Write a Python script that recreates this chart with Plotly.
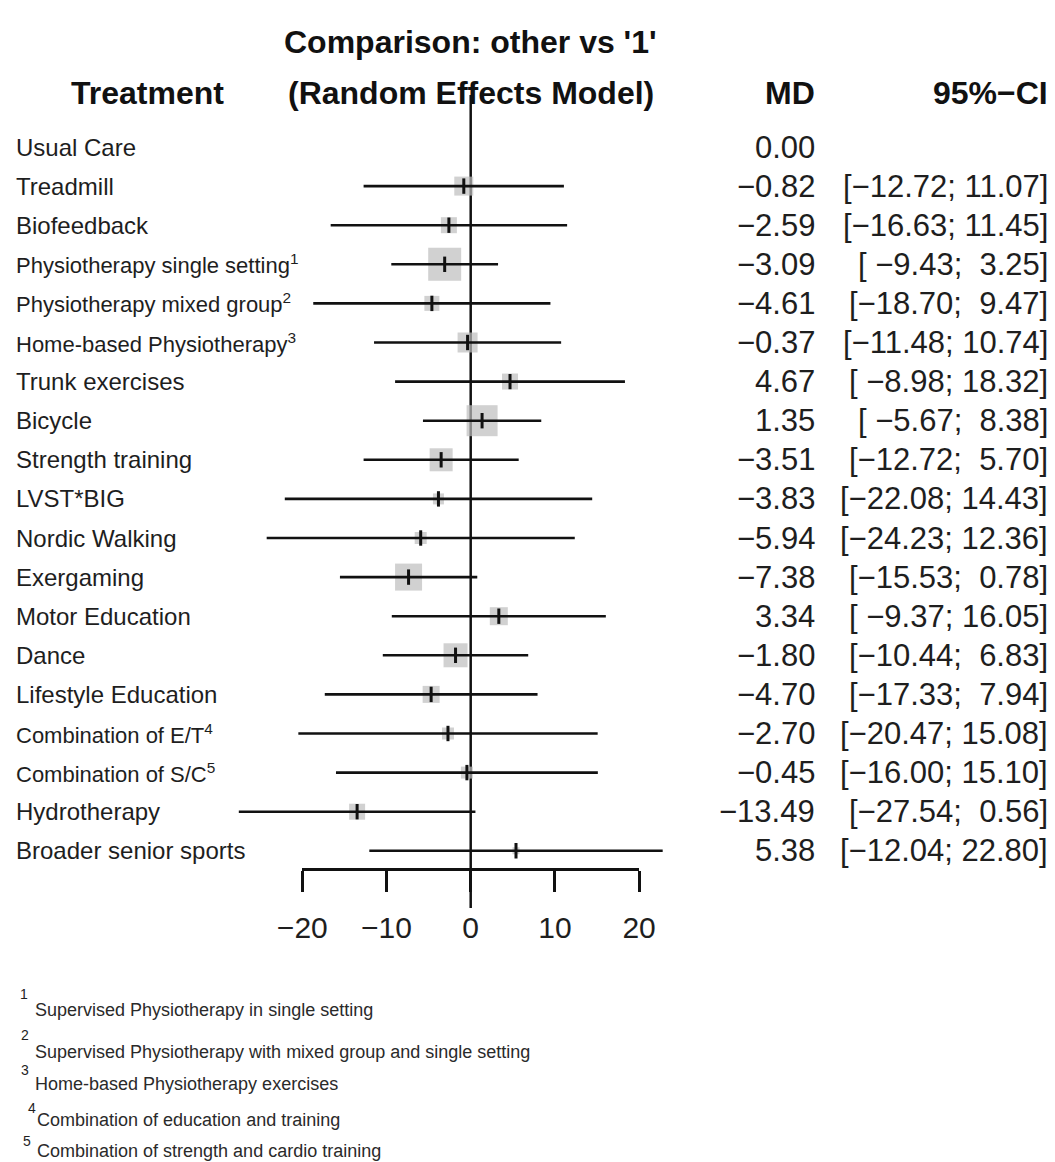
import plotly.graph_objects as go

# ---- data -------------------------------------------------------------
treatments = [
    "Usual Care", "Treadmill", "Biofeedback", "Physiotherapy single setting",
    "Physiotherapy mixed group", "Home-based Physiotherapy", "Trunk exercises",
    "Bicycle", "Strength training", "LVST*BIG", "Nordic Walking", "Exergaming",
    "Motor Education", "Dance", "Lifestyle Education", "Combination of E/T",
    "Combination of S/C", "Hydrotherapy", "Broader senior sports",
]
note_marks = ["", "", "", "1", "2", "3", "", "", "", "", "", "", "", "", "",
              "4", "5", "", ""]
md = [0.00, -0.82, -2.59, -3.09, -4.61, -0.37, 4.67, 1.35, -3.51, -3.83,
      -5.94, -7.38, 3.34, -1.80, -4.70, -2.70, -0.45, -13.49, 5.38]
ci_low = [None, -12.72, -16.63, -9.43, -18.70, -11.48, -8.98, -5.67, -12.72,
          -22.08, -24.23, -15.53, -9.37, -10.44, -17.33, -20.47, -16.00,
          -27.54, -12.04]
ci_high = [None, 11.07, 11.45, 3.25, 9.47, 10.74, 18.32, 8.38, 5.70, 14.43,
           12.36, 0.78, 16.05, 6.83, 7.94, 15.08, 15.10, 0.56, 22.80]
# square side (px) reflecting the weight of each comparison
square_px = [0, 19, 16, 33, 15, 20, 16, 31, 23, 11, 12, 27, 18, 24, 17, 12,
             12, 16, 7]
x_ticks = [-20, -10, 0, 10, 20]
footnote_marks = ["1", "2", "3", "4", "5"]
footnotes = [
    "Supervised Physiotherapy in single setting",
    "Supervised Physiotherapy with mixed group and single setting",
    "Home-based Physiotherapy exercises",
    "Combination of education and training",
    "Combination of strength and cardio training",
]

# ---- geometry ---------------------------------------------------------
W, H = 1055, 1162
ROW0, ROWH = 147.0, 39.1          # pixel centre of first row, row pitch
X0, XS = 470.7, 8.42              # pixel of zero, pixels per unit


def px_x(p):
    return p / W


def px_y(p):
    return 1 - p / H


def row_of(p):
    return (p - ROW0) / ROWH


FONT = "Liberation Sans, Arial, sans-serif"
INK = "#1e1e1e"

rows = list(range(len(treatments)))
est_rows = [r for r in rows if ci_low[r] is not None]

fig = go.Figure()

# squares (weights)
fig.add_trace(go.Scatter(
    x=[md[r] for r in est_rows], y=est_rows, mode="markers",
    marker=dict(symbol="square", size=[square_px[r] for r in est_rows],
                color="#bdbdbd", line=dict(width=0)),
    hoverinfo="skip", showlegend=False))

# confidence intervals
ci_x, ci_y = [], []
for r in est_rows:
    ci_x += [ci_low[r], ci_high[r], None]
    ci_y += [r, r, None]
fig.add_trace(go.Scatter(
    x=ci_x, y=ci_y, mode="lines", line=dict(color="#111111", width=2.6),
    hoverinfo="skip", showlegend=False))

# point estimate ticks
fig.add_trace(go.Scatter(
    x=[md[r] for r in est_rows], y=est_rows, mode="markers",
    marker=dict(symbol="line-ns", size=11,
                line=dict(color="#111111", width=3)),
    hoverinfo="skip", showlegend=False))

# carrier trace for the tick axis
fig.add_trace(go.Scatter(
    x=[x_ticks[0], x_ticks[-1]], y=[None, None], xaxis="x2", yaxis="y",
    mode="markers", marker=dict(opacity=0), hoverinfo="skip",
    showlegend=False))

# line of no effect
fig.add_shape(type="line", xref="x", yref="paper", x0=0, x1=0,
              y0=px_y(908), y1=px_y(95), layer="below",
              line=dict(color="#111111", width=2.5))

ann = []
# treatment labels
for r in rows:
    mark = note_marks[r]
    text = treatments[r] + (f"<sup>{mark}</sup>" if mark else "")
    ann.append(dict(x=px_x(14), xref="paper", y=r, yref="y", text=text,
                    xanchor="left", yanchor="middle", showarrow=False,
                    font=dict(family=FONT, size=22 if mark else 24,
                              color=INK)))


def fmt(v, width=0):
    s = f"{v:{width}.2f}"
    return s.replace("-", "\u2212").replace(" ", "\u00a0")


# MD and CI columns
for r in rows:
    ann.append(dict(x=px_x(817), xref="paper", y=r, yref="y", text=fmt(md[r]),
                    xanchor="right", yanchor="middle", showarrow=False,
                    font=dict(family=FONT, size=31, color=INK)))
    if ci_low[r] is not None:
        ci_txt = "[" + fmt(ci_low[r], 6) + ";\u00a0" + fmt(ci_high[r], 5) + "]"
        ann.append(dict(x=px_x(1050), xref="paper", y=r, yref="y",
                        text=ci_txt, xanchor="right", yanchor="middle",
                        showarrow=False,
                        font=dict(family=FONT, size=31, color=INK)))

# headers
hdr = dict(family=FONT, size=32, color="#111111")
ann.append(dict(x=px_x(147), xref="paper", y=px_y(93), yref="paper",
                text="<b>Treatment</b>", xanchor="center", yanchor="middle",
                showarrow=False, font=hdr))
ann.append(dict(x=0, xref="x", y=px_y(42), yref="paper",
                text="<b>Comparison: other vs '1'</b>", xanchor="center",
                yanchor="middle", showarrow=False, font=hdr))
ann.append(dict(x=0, xref="x", y=px_y(93), yref="paper",
                text="<b>(Random Effects Model)</b>", xanchor="center",
                yanchor="middle", showarrow=False, font=hdr))
ann.append(dict(x=px_x(817), xref="paper", y=px_y(93), yref="paper",
                text="<b>MD</b>", xanchor="right", yanchor="middle",
                showarrow=False, font=hdr))
ann.append(dict(x=px_x(1050), xref="paper", y=px_y(93), yref="paper",
                text="<b>95%\u2212CI</b>", xanchor="right", yanchor="middle",
                showarrow=False, font=hdr))

# footnotes
mark_pos = [(18, 994), (19, 1035), (19, 1070), (26, 1108), (21, 1141)]
text_pos = [(33, 1010), (33, 1052), (33, 1084), (35, 1120), (35, 1151)]
for m, t, (mx, my), (tx, ty) in zip(footnote_marks, footnotes, mark_pos,
                                    text_pos):
    ann.append(dict(x=px_x(mx), xref="paper", y=px_y(my), yref="paper",
                    text=m, xanchor="left", yanchor="middle", showarrow=False,
                    font=dict(family=FONT, size=14, color=INK)))
    ann.append(dict(x=px_x(tx), xref="paper", y=px_y(ty), yref="paper",
                    text=t, xanchor="left", yanchor="middle", showarrow=False,
                    font=dict(family=FONT, size=18, color="#2a2a2a")))

x_lo, x_hi = -30, 30
fig.update_layout(
    width=W, height=H,
    margin=dict(l=0, r=0, t=0, b=0, pad=0, autoexpand=False),
    paper_bgcolor="white", plot_bgcolor="rgba(0,0,0,0)",
    showlegend=False, annotations=ann,
    xaxis=dict(range=[x_lo, x_hi],
               domain=[px_x(X0 + XS * x_lo), px_x(X0 + XS * x_hi)],
               visible=False, fixedrange=True, automargin=False),
    xaxis2=dict(range=[x_ticks[0], x_ticks[-1]],
                domain=[px_x(X0 + XS * x_ticks[0]),
                        px_x(X0 + XS * x_ticks[-1])],
                anchor="free", position=px_y(869), automargin=False,
                showline=True, linecolor="#111111", linewidth=2.5,
                ticks="outside", ticklen=21, tickwidth=2.5,
                tickcolor="#111111", tickvals=x_ticks,
                ticklabelstandoff=10,
                tickfont=dict(family=FONT, size=30, color=INK),
                showgrid=False, zeroline=False, fixedrange=True),
    yaxis=dict(range=[row_of(H), row_of(0)], domain=[0, 1], visible=False,
               fixedrange=True, automargin=False),
)

fig.write_html("out.html")
